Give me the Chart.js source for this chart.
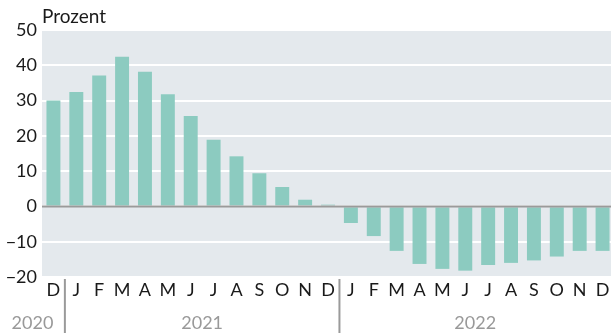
<!DOCTYPE html>
<html>
<head>
<meta charset="utf-8">
<script src="https://cdn.jsdelivr.net/npm/chart.js@4/dist/chart.umd.min.js"></script>
<style>
  html, body { margin: 0; padding: 0; background: #fff; }
  #wrap { width: 611px; height: 333px; overflow: hidden; }
</style>
</head>
<body>
<div id="wrap"><canvas id="chart" width="614" height="333"></canvas></div>
<script>
// Monthly change, Dec 2020 - Dec 2022
const months = ['D', 'J', 'F', 'M', 'A', 'M', 'J', 'J', 'A', 'S', 'O', 'N', 'D',
                'J', 'F', 'M', 'A', 'M', 'J', 'J', 'A', 'S', 'O', 'N', 'D'];
const values = [30.0, 32.4, 37.1, 42.4, 38.2, 31.8, 25.6, 18.9, 14.2, 9.4, 5.5, 1.9, 0.5,
                -4.7, -8.4, -12.6, -16.3, -17.7, -18.2, -16.6, -16.0, -15.3, -14.2, -12.6, -12.6];
// year label, first and last month index
const years = [['2020', 0, 0], ['2021', 1, 12], ['2022', 13, 24]];
const yTicks = [-20, -10, 0, 10, 20, 30, 40, 50];

const FONT = 'Lato, "Noto Sans", sans-serif';
const BAR = '#8ccbc0';
const PANEL = '#e4e9ed';
const GREY = '#9a9a9a';

// grey panel behind the plot area
const panelBg = {
    id: 'panelBg',
    beforeDraw(chart) {
        const { ctx, chartArea: a } = chart;
        ctx.save();
        ctx.fillStyle = PANEL;
        ctx.fillRect(a.left, a.top, a.right - a.left, a.bottom - a.top);
        ctx.restore();
    }
};

// zero line, unit caption, year labels and separators
const decorations = {
    id: 'decorations',
    afterDatasetsDraw(chart) {
        const { ctx, chartArea: a, scales: { y } } = chart;
        ctx.save();
        const y0 = y.getPixelForValue(0);
        ctx.strokeStyle = GREY;
        ctx.lineWidth = 2;
        ctx.beginPath();
        ctx.moveTo(a.left, y0);
        ctx.lineTo(a.right, y0);
        ctx.stroke();
        ctx.restore();
    },
    afterDraw(chart) {
        const { ctx, chartArea: a, scales: { x } } = chart;
        ctx.save();
        ctx.fillStyle = '#1a1a1a';
        ctx.font = '19px ' + FONT;
        ctx.textAlign = 'left';
        ctx.textBaseline = 'middle';
        ctx.fillText('Prozent', a.left, 17);

        ctx.font = '18px ' + FONT;
        ctx.fillStyle = '#999';
        ctx.textAlign = 'center';
        ctx.strokeStyle = GREY;
        ctx.lineWidth = 2;
        years.forEach(([label, first, last], i) => {
            const left = first === 0 ? 0 : (x.getPixelForValue(first - 1) + x.getPixelForValue(first)) / 2;
            const right = last === months.length - 1 ? 611 : (x.getPixelForValue(last) + x.getPixelForValue(last + 1)) / 2;
            ctx.fillText(label, (left + right) / 2, 323);
            if (i > 0) {
                ctx.beginPath();
                ctx.moveTo(left, a.bottom + 2);
                ctx.lineTo(left, 333);
                ctx.stroke();
            }
        });
        ctx.restore();
    }
};

new Chart(document.getElementById('chart'), {
    type: 'bar',
    data: {
        labels: months,
        datasets: [{
            data: values,
            backgroundColor: BAR,
            barPercentage: 0.61,
            categoryPercentage: 1.0
        }]
    },
    options: {
        responsive: false,
        animation: false,
        layout: { padding: { top: 30, left: 0, right: 0, bottom: 0 } },
        plugins: { legend: { display: false }, tooltip: { enabled: false } },
        scales: {
            x: {
                grid: { display: false },
                border: { display: false },
                ticks: {
                    color: '#1a1a1a',
                    font: { family: FONT, size: 18 },
                    padding: -6,
                    maxRotation: 0,
                    autoSkip: false
                },
                afterFit(scale) { scale.height = 56; }
            },
            y: {
                min: -20,
                max: 50,
                afterBuildTicks(scale) { scale.ticks = yTicks.map(v => ({ value: v })); },
                grid: {
                    color: '#ffffff',
                    lineWidth: 2,
                    drawTicks: false
                },
                border: { display: false },
                ticks: {
                    color: '#1a1a1a',
                    font: { family: FONT, size: 18 },
                    padding: 5,
                    callback: v => (v < 0 ? '\u2212' + Math.abs(v) : String(v))
                },
                afterFit(scale) { scale.width = 42; }
            }
        }
    },
    plugins: [panelBg, decorations]
});
</script>
</body>
</html>
